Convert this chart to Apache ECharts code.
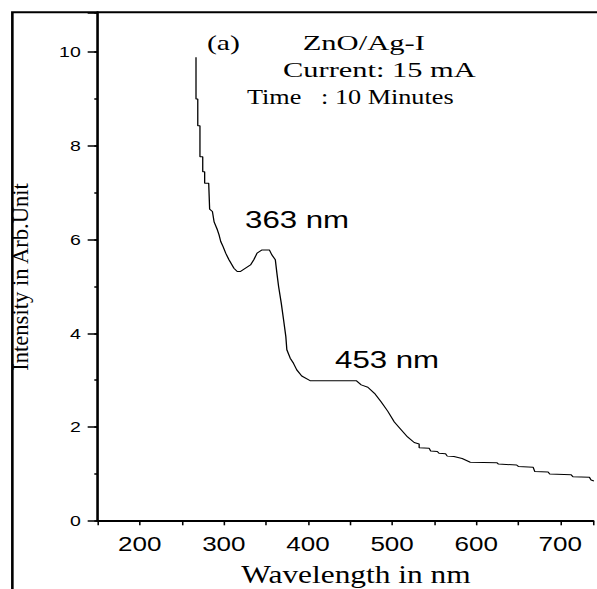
<!DOCTYPE html>
<html><head><meta charset="utf-8">
<script src="https://cdn.jsdelivr.net/npm/echarts@6/dist/echarts.min.js"></script>
<style>
html,body{margin:0;padding:0;background:#fff;overflow:hidden;width:597px;height:589px}
#c{width:459px;height:589px;transform:scaleX(1.30065);transform-origin:0 0;}
</style>
</head><body><div id="c"></div><script>
const wavelengths = [266.9,266.9,269.0,269.0,271.6,271.6,274.9,274.9,277.2,277.2,282.0,283.1,286.4,288.4,292.3,294.3,296.3,299.1,302.2,306.1,312.0,315.9,319.9,325.8,331.7,335.6,339.5,345.4,354.1,357.2,361.2,363.1,365.1,368.3,371.0,373.7,374.9,378.9,382.8,386.7,392.6,402.5,457.4,463.3,471.2,479.1,486.9,494.8,502.7,510.5,518.4,526.3,532.2,532.2,544.0,545.9,553.8,555.8,563.6,565.6,573.5,583.3,593.0,624.5,626.5,648.1,650.1,667.8,669.7,685.5,687.4,713.0,715.0,734.6,736.6,740];
const intensities = [9.89,9.00,9.00,8.43,8.43,7.77,7.77,7.45,7.45,7.20,7.20,6.65,6.60,6.38,6.21,6.10,5.96,5.85,5.71,5.57,5.39,5.32,5.32,5.39,5.46,5.57,5.71,5.78,5.78,5.67,5.57,5.28,5.00,4.64,4.29,3.93,3.65,3.47,3.36,3.22,3.09,2.99,2.99,2.90,2.85,2.72,2.54,2.34,2.11,1.95,1.79,1.67,1.64,1.56,1.55,1.49,1.48,1.44,1.43,1.38,1.37,1.33,1.25,1.24,1.21,1.19,1.16,1.14,1.05,1.04,1.00,0.98,0.94,0.93,0.87,0.85];
const xTickLabels = ['200','300','400','500','600','700'];
const yTickLabels = ['0','2','4','6','8','10'];
const xAxisTitle = 'Wavelength in nm';
const yAxisTitle = 'Intensity in Arb.Unit';
const peakLabels = ['363 nm','453 nm'];
const infoLines = ['(a)','ZnO/Ag-I','Current: 15 mA','Time\u00a0\u00a0\u00a0: 10 Minutes'];

const seriesData = wavelengths.map((w,i)=>[w,intensities[i]]);
const serif = '"Liberation Serif", "Times New Roman", serif';
const sans = '"Liberation Sans", Arial, sans-serif';

function txt(text, x, y, size, family, sx, sy, rot, align){
  return {type:'text', x:x, y:y, rotation:rot||0, scaleX:sx||1, scaleY:sy||1, silent:true, z:20,
    style:{text:text, x:0, y:0, fontSize:size, fontFamily:family, fill:'#000',
      textAlign:align||'left', textVerticalAlign:'middle', align:align||'left', verticalAlign:'middle'}};
}

const chart = echarts.init(document.getElementById('c'), null, {renderer:'svg'});
chart.setOption({
  animation:false,
  backgroundColor:'#fff',
  grid:{left:75.1, right:0, top:12.3, bottom:68.2},
  xAxis:{type:'value', min:150, max:739, interval:50,
    axisLine:{show:true, lineStyle:{color:'#000', width:2}},
    axisTick:{show:true, inside:false, length:4.5, lineStyle:{color:'#000', width:1.2}},
    axisLabel:{show:true, margin:13, color:'#000', fontSize:20, fontFamily:sans,
      formatter:v=> xTickLabels.includes(String(v)) ? String(v) : ''},
    splitLine:{show:false}},
  yAxis:[{type:'value', min:0, max:10.85, interval:2,
    axisLine:{show:true, lineStyle:{color:'#000', width:2}},
    axisTick:{show:true, inside:false, length:7.7, lineStyle:{color:'#000', width:1.5}},
    axisLabel:{show:true, margin:13, color:'#000', fontSize:15, fontFamily:sans,
      formatter:v=> yTickLabels.includes(String(v)) ? String(v) : ''},
    splitLine:{show:false}},
   {type:'value', min:0, max:10.85, interval:1, position:'left',
    axisLine:{show:false},
    axisTick:{show:true, inside:false, length:2.6, lineStyle:{color:'#000', width:1.5}},
    axisLabel:{show:false}, splitLine:{show:false}}],
  series:[{type:'line', data:seriesData, xAxisIndex:0, yAxisIndex:0, showSymbol:false, symbol:'none',
    lineStyle:{color:'#000', width:1}, smooth:false}],
  graphic:[
    {type:'rect', silent:true, z:10, shape:{x:9.5, y:12.3, width:1000, height:1000},
      style:{fill:'none', stroke:'#000', lineWidth:2}},
    txt(yAxisTitle, 16, 277, 17, serif, 1.33, 1, Math.PI/2, 'center'),
    txt(xAxisTitle, 273.7, 575, 24.5, serif, 0.985, 1, 0, 'center'),
    txt(peakLabels[0], 188.4, 219.7, 24, sans),
    txt(peakLabels[1], 257.6, 360, 24, sans),
    txt(infoLines[0], 159.1, 43.4, 21, serif, 1.09),
    txt(infoLines[1], 232.7, 43.4, 21, serif, 1.12),
    txt(infoLines[2], 217.6, 69.9, 21, serif, 1.115),
    txt(infoLines[3], 189.9, 96.9, 21, serif, 0.96)
  ]
});
</script></body></html>
